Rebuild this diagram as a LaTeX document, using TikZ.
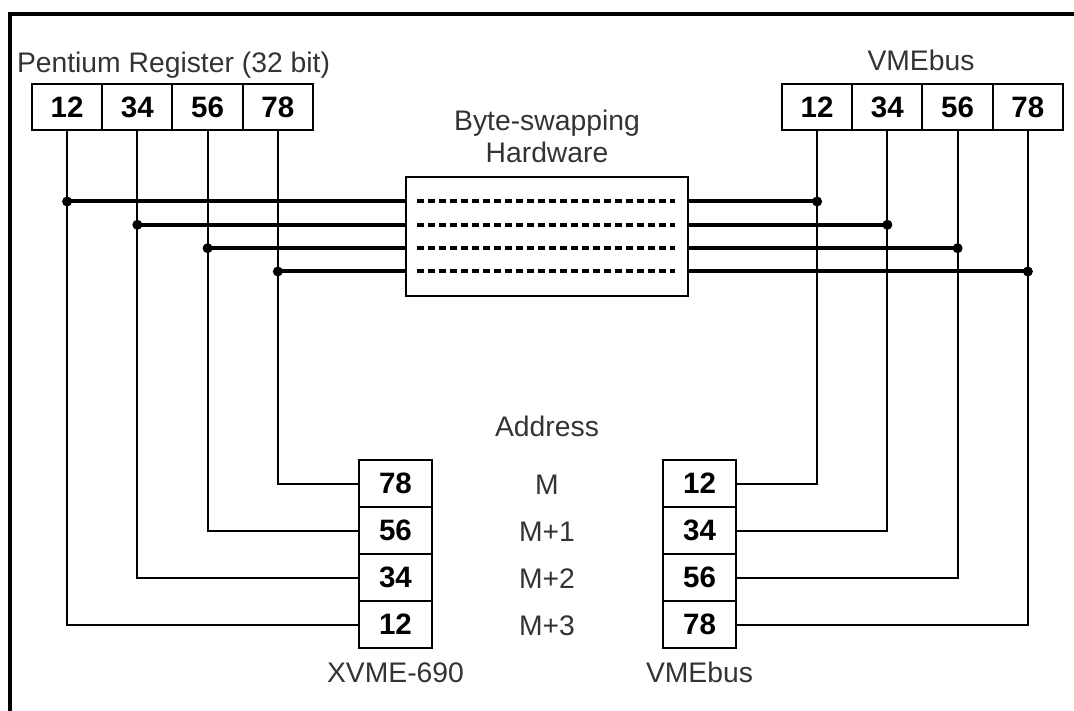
\documentclass[tikz,border=0pt]{standalone}
\usepackage{fontspec}
\setmainfont{Liberation Sans}
\usetikzlibrary{positioning}
\newcommand{\diafont}{\fontsize{28.3}{32}\selectfont}
\newcommand{\cellfont}{\fontsize{29.5}{32}\selectfont\bfseries}
\tikzset{
    regcell/.style = {rectangle, draw=black, line width=2pt, minimum width=70.25pt, minimum height=46pt, inner sep=0pt, outer sep=0pt, font=\cellfont},
    memcell/.style = {rectangle, draw=black, line width=2pt, minimum width=73pt, minimum height=47pt, inner sep=0pt, outer sep=0pt, font=\cellfont},
    hwbox/.style = {rectangle, draw=black, line width=2pt, minimum width=282pt, minimum height=119pt, inner sep=0pt, outer sep=0pt},
    lbl/.style = {inner sep=0pt, anchor=base, text=black!80, font=\diafont},
    dotn/.style = {circle, fill=black, inner sep=0pt, minimum size=10pt},
    busn/.style = {line width=4pt},
    wiren/.style = {line width=2pt},
    swapd/.style = {line width=4pt, dash pattern=on 7pt off 4pt},
    framen/.style = {line width=4pt}
}
\begin{document}
\begin{tikzpicture}[x=1pt,y=-1pt,node distance=0pt]
\path[use as bounding box] (0,0) rectangle (1074,711);
\draw[framen] (10,711) -- (10,14) -- (1074,14);
%
% registers
\node[regcell] at (67.1,107) (p1) {12};
\node[regcell,right=of p1] (p2) {34};
\node[regcell,right=of p2] (p3) {56};
\node[regcell,right=of p3] (p4) {78};
\node[regcell] at (817.1,107) (v1) {12};
\node[regcell,right=of v1] (v2) {34};
\node[regcell,right=of v2] (v3) {56};
\node[regcell,right=of v3] (v4) {78};
\node[lbl] at (173.5,73) (preg) {Pentium Register (32 bit)};
\node[lbl] at (921,71) (vtop) {VMEbus};
%
% byte-swapping hardware
\node[hwbox] at (547,236.5) (hw) {};
\node[lbl] at (547,131) (bsw) {Byte-swapping};
\node[lbl] at (547,163) (hwl) {Hardware};
%
% memory
\node[memcell] at (395.5,483.5) (m1) {78};
\node[memcell,below=of m1] (m2) {56};
\node[memcell,below=of m2] (m3) {34};
\node[memcell,below=of m3] (m4) {12};
\node[memcell] at (699.5,483.5) (n1) {12};
\node[memcell,below=of n1] (n2) {34};
\node[memcell,below=of n2] (n3) {56};
\node[memcell,below=of n3] (n4) {78};
\node[lbl] at (547,436) (addr) {Address};
\node[lbl] at (547,494.5) (a0) {M};
\node[lbl] at (547,541.5) (a1) {M+1};
\node[lbl] at (547,588.5) (a2) {M+2};
\node[lbl] at (547,635.5) (a3) {M+3};
\node[lbl] at (395.5,682) (xvme) {XVME-690};
\node[lbl] at (699.5,682) (vbot) {VMEbus};
%
% wires
\draw[wiren] (p1.south) -- (p1.south |- m4.west) -- (m4.west);
\draw[wiren] (p2.south) -- (p2.south |- m3.west) -- (m3.west);
\draw[wiren] (p3.south) -- (p3.south |- m2.west) -- (m2.west);
\draw[wiren] (p4.south) -- (p4.south |- m1.west) -- (m1.west);
\draw[wiren] (v1.south) -- (v1.south |- n1.east) -- (n1.east);
\draw[wiren] (v2.south) -- (v2.south |- n2.east) -- (n2.east);
\draw[wiren] (v3.south) -- (v3.south |- n3.east) -- (n3.east);
\draw[wiren] (v4.south) -- (v4.south |- n4.east) -- (n4.east);
%
% buses
\foreach \i/\y in {1/201.5,2/224.8,3/248.2,4/271.5}{
  \node[dotn] at (p\i.south |- 0,\y) (dl\i) {};
  \node[dotn] at (v\i.south |- 0,\y) (dr\i) {};
  \draw[busn] (dl\i.center) -- (hw.west |- dl\i);
  \draw[busn] (hw.east |- dr\i) -- (dr\i.center);
  \draw[swapd] ([xshift=11pt]hw.west |- dl\i) -- ([xshift=-13pt]hw.east |- dl\i);
}
\end{tikzpicture}
\end{document}
